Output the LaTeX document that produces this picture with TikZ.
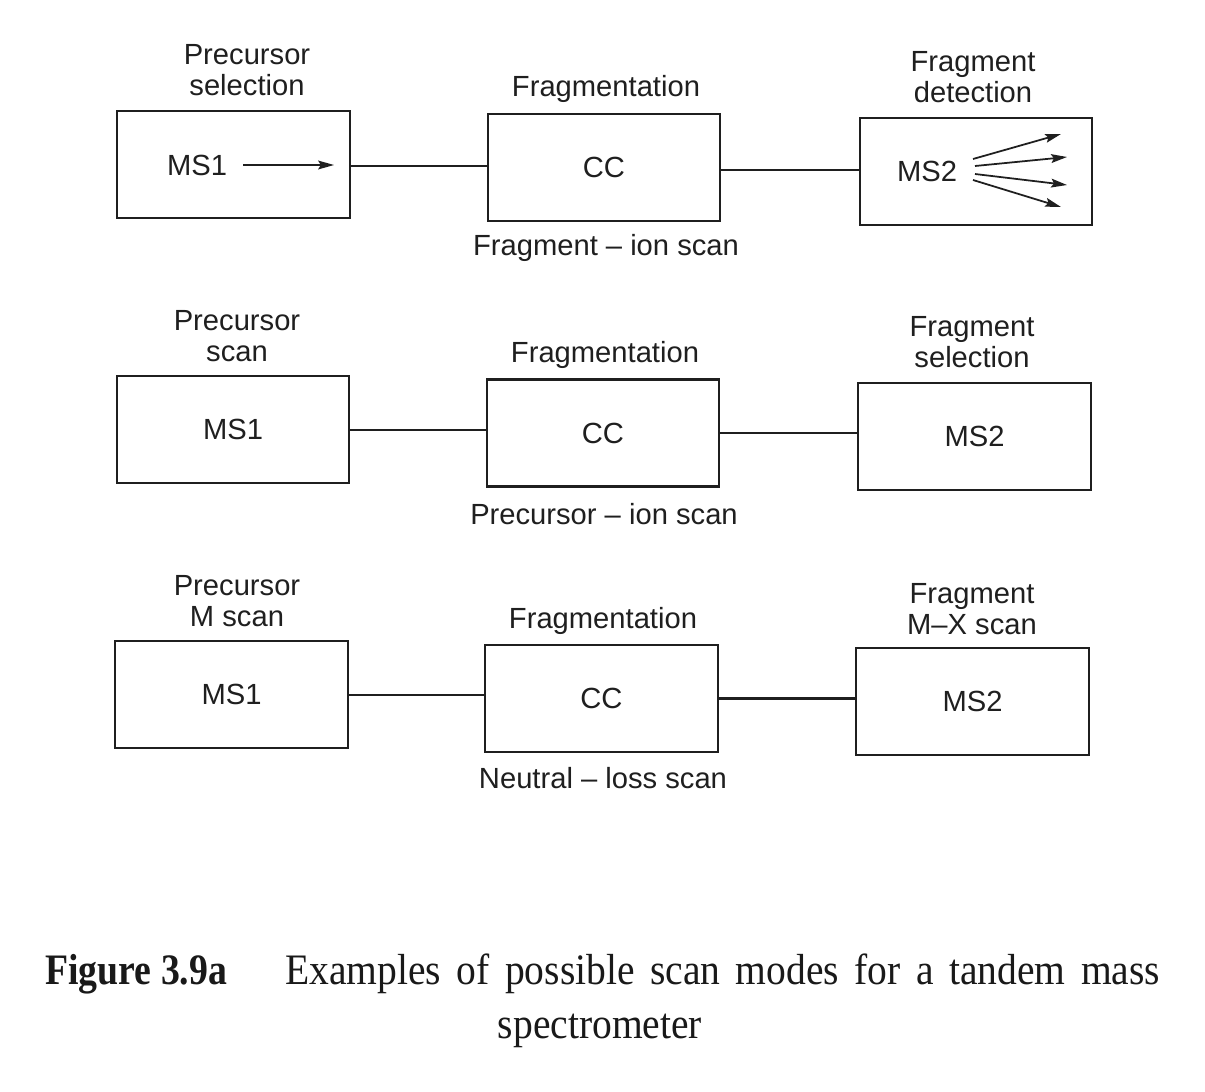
\documentclass[tikz,border=0pt]{standalone}
\usepackage{fontspec}
\setmainfont{Liberation Serif}
\newfontfamily\labelfont[Ligatures=TeX]{Liberation Sans}
\usetikzlibrary{arrows.meta}
\begin{document}
\begin{tikzpicture}[x=0.02cm,y=-0.02cm,
  unit/.style={draw=black!88, line width=1.2pt, minimum width=4.65cm, minimum height=2.14cm, inner sep=0pt,
    font=\labelfont\fontsize{16.6}{17.8}\selectfont, text=black!88},
  lbl/.style={inner sep=0pt, align=center, font=\labelfont\fontsize{16.6}{17.8}\selectfont, text=black!88},
  link/.style={draw=black!88, line width=1.2pt},
  ray/.style={draw=black!88, line width=1pt, -{Stealth[length=9pt,width=5pt,inset=1.5pt]}},
  captxt/.style={inner sep=0pt, text=black!90, font=\fontsize{22.5}{27}\selectfont},
]
\fill[white] (0,0) rectangle (1205,1092);
\useasboundingbox (0,0) rectangle (1205,1092);

% ---------- Row 1: fragment-ion scan ----------
\node[unit] (a1) at (233.5,164.5) {};
\node[unit] (a2) at (604,167.5) {CC};
\node[unit] (a3) at (976,171.5) {};
\node[lbl] (a1t) at (197,165) {MS1};
\node[lbl] (a3t) at (927,171) {MS2};
\node[lbl] at (247,70) {Precursor\\selection};
\node[lbl] at (606,89) {Fragmentation};
\node[lbl] at (973,77) {Fragment\\detection};
\node[lbl] at (606,248) {Fragment – ion scan};
\draw[link] ([yshift=-1pt]a1.east) -- ([yshift=-1pt]a1.east -| a2.west);
\draw[link] ([yshift=-1.5pt]a2.east) -- ([yshift=-1.5pt]a2.east -| a3.west);
\coordinate (m1s) at (243,165);
\coordinate (m1e) at (334,165);
\draw[ray] (m1s) -- (m1e);
\coordinate (f1s) at (973,159); \coordinate (f1e) at (1061,134);
\coordinate (f2s) at (975,166); \coordinate (f2e) at (1067,157);
\coordinate (f3s) at (975,174); \coordinate (f3e) at (1067,185);
\coordinate (f4s) at (973,180); \coordinate (f4e) at (1061,207);
\draw[ray] (f1s) -- (f1e);
\draw[ray] (f2s) -- (f2e);
\draw[ray] (f3s) -- (f3e);
\draw[ray] (f4s) -- (f4e);

% ---------- Row 2: precursor-ion scan ----------
\node[unit] (b1) at (233,429.5) {MS1};
\node[unit] (b2) at (603,433) {CC};
\node[unit] (b3) at (974.5,436.5) {MS2};
\node[lbl] at (237,336) {Precursor\\scan};
\node[lbl] at (605,355) {Fragmentation};
\node[lbl] at (972,342) {Fragment\\selection};
\node[lbl] at (604,514) {Precursor – ion scan};
\draw[link] ([yshift=-0.5pt]b1.east) -- ([yshift=-0.5pt]b1.east -| b2.west);
\draw[link] (b2.east) -- (b2.east -| b3.west);

% ---------- Row 3: neutral-loss scan ----------
\node[unit] (c1) at (231.5,694.5) {MS1};
\node[unit] (c2) at (601.5,698.5) {CC};
\node[unit] (c3) at (972.5,701.5) {MS2};
\node[lbl] at (237,601) {Precursor\\M scan};
\node[lbl] at (603,621) {Fragmentation};
\node[lbl] at (972,609) {Fragment\\M–X scan};
\node[lbl] at (603,778) {Neutral – loss scan};
\draw[link] ([yshift=-0.5pt]c1.east) -- ([yshift=-0.5pt]c1.east -| c2.west);
\draw[link] (c2.east) -- (c2.east -| c3.west);

% ---------- Caption ----------
\node[captxt, anchor=base west] (cap1) at (45,984)
  {\makebox[4.8cm][l]{\scalebox{0.955}[1.1]{\textbf{Figure 3.9a}}}\scalebox{1}[1.1]{\makebox[17.5cm][s]{Examples of possible scan modes for a tandem mass}}};
\node[captxt, anchor=base] (cap2) at (600,1038) {\scalebox{1}[1.1]{spectrometer}};
\end{tikzpicture}
\end{document}
